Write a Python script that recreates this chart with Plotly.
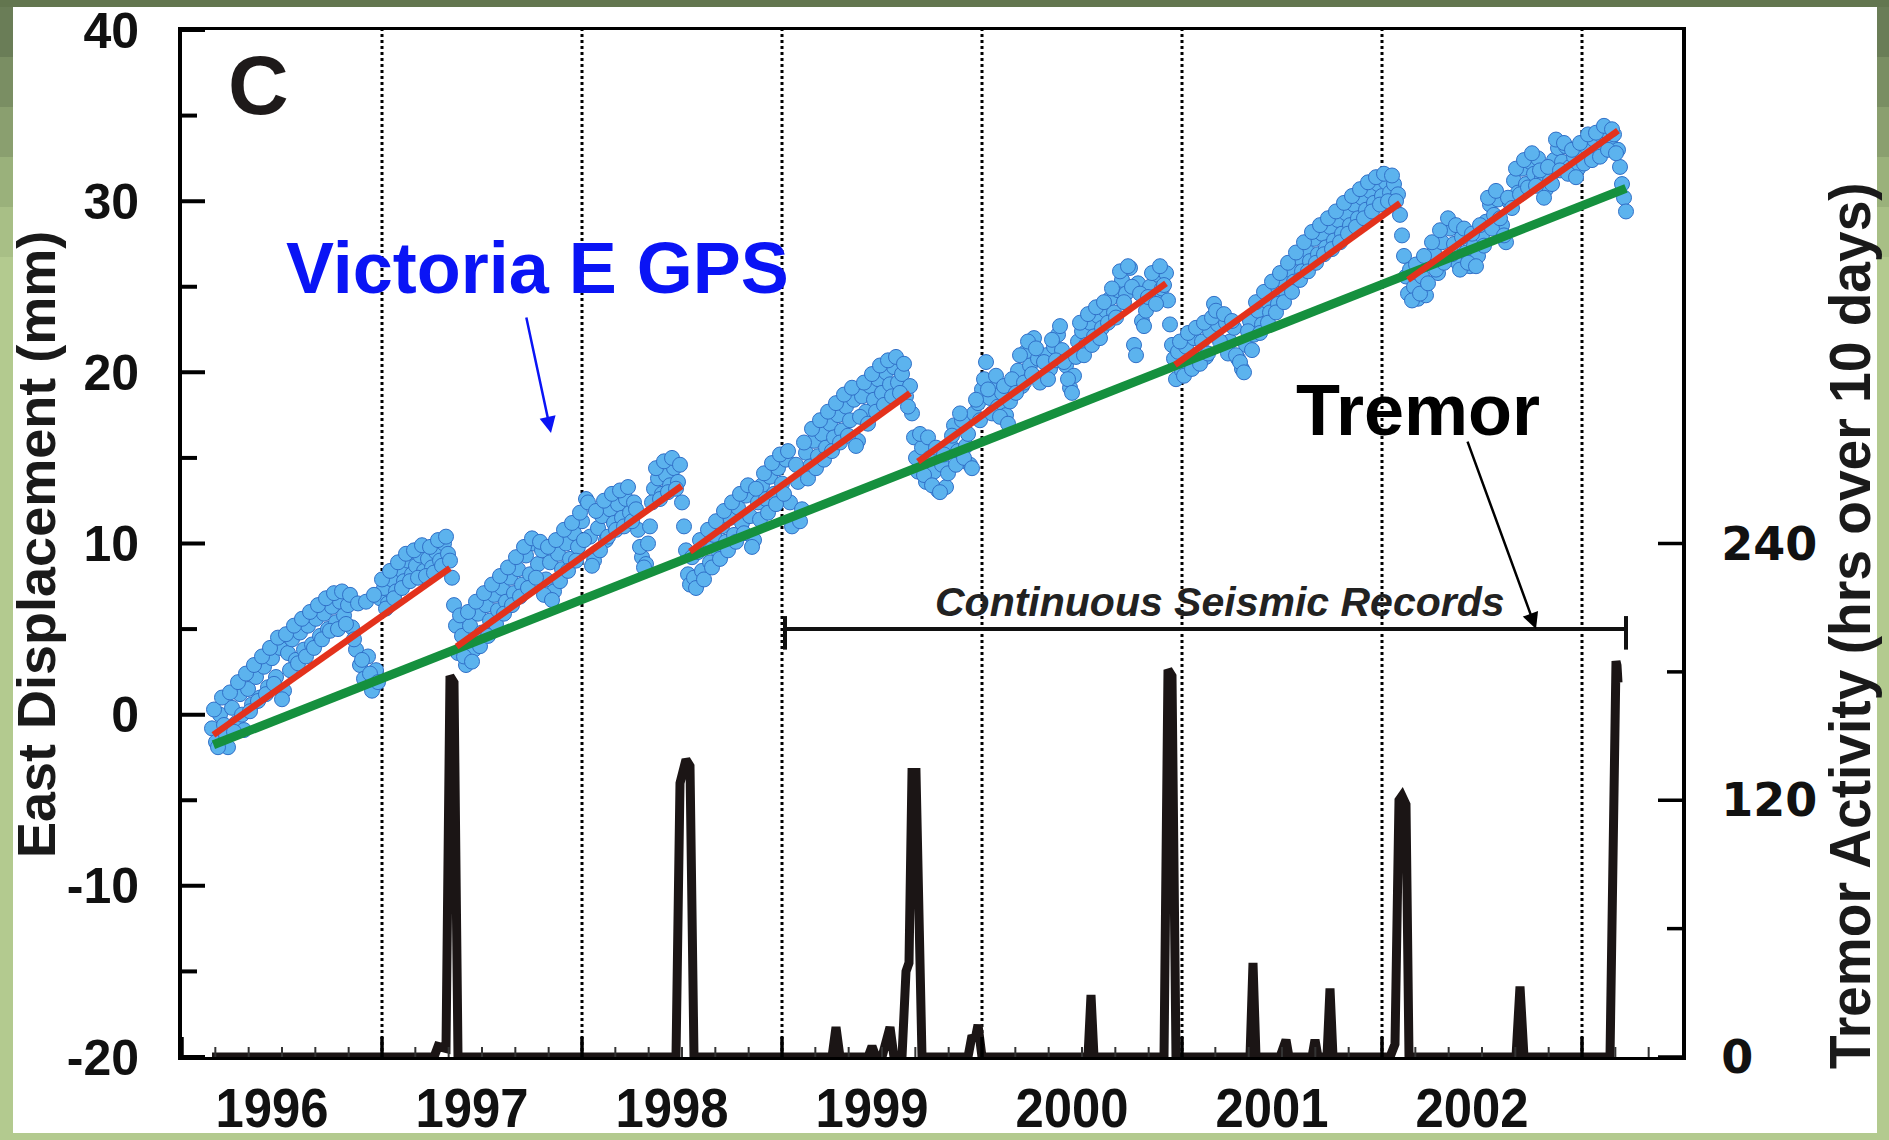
import plotly.graph_objects as go

# ---------------- data ----------------
# GPS east displacement (decimal year, mm), one list per inter-event segment
gps_seg1 = [(1996.15,-0.8),(1996.17,-1.6),(1996.19,0.0),(1996.21,-0.6),(1996.23,-1.9),(1996.25,0.4),
            (1996.27,-0.5),(1996.29,1.2),(1996.31,-0.9),(1996.33,1.5),(1996.35,0.6),(1996.37,2.2),
            (1996.39,1.0),(1996.41,2.8),(1996.43,1.6),(1996.45,3.3),(1996.47,2.2),(1996.49,3.9),
            (1996.51,1.4),(1996.53,3.6),(1996.55,4.4),(1996.57,3.2),(1996.59,4.8),(1996.61,3.8),
            (1996.63,5.2),(1996.65,4.1),(1996.67,5.6),(1996.69,4.6),(1996.71,5.9),(1996.73,5.0),
            (1996.75,6.3),(1996.77,5.4),(1996.79,6.6),(1996.81,5.8),(1996.83,6.4),(1996.85,5.1),
            (1996.87,3.8),(1996.89,2.9),(1996.91,2.1),(1996.93,3.4),(1996.95,1.4),(1996.97,2.6),
            (1996.99,6.8),(1997.01,7.4),(1997.03,6.5),(1997.05,7.9),(1997.07,7.2),(1997.09,8.5),
            (1997.11,7.8),(1997.13,9.0),(1997.15,8.2),(1997.17,8.7),(1997.19,9.3),(1997.21,8.4),
            (1997.23,9.1),(1997.25,8.6),(1997.27,9.5),(1997.29,9.0),(1997.31,10.0),(1997.33,9.4),
            (1997.35,8.0)]
gps_fill1 = [(1996.16,0.3),(1996.18,-1.9),(1996.20,1.0),(1996.22,-1.2),(1996.24,1.3),(1996.26,-1.0),
             (1996.28,1.9),(1996.30,0.0),(1996.32,2.4),(1996.34,0.2),(1996.36,2.9),(1996.38,0.8),
             (1996.40,3.4),(1996.42,1.2),(1996.44,3.9),(1996.46,1.8),(1996.48,4.5),(1996.50,0.9),
             (1996.52,4.7),(1996.54,2.6),(1996.56,5.2),(1996.58,3.0),(1996.60,5.6),(1996.62,3.4),
             (1996.64,6.0),(1996.66,3.9),(1996.68,6.4),(1996.70,4.4),(1996.72,6.8),(1996.74,4.9),
             (1996.76,7.1),(1996.78,5.0),(1996.80,7.2),(1996.82,5.3),(1996.84,7.0),(1996.86,4.4),
             (1996.88,6.5),(1996.90,3.2),(1996.92,6.6),(1996.94,2.4),(1996.96,7.0),(1996.98,1.9),
             (1997.00,7.9),(1997.02,6.2),(1997.04,8.4),(1997.06,6.8),(1997.08,8.9),(1997.10,7.4),
             (1997.12,9.4),(1997.14,7.8),(1997.16,9.6),(1997.18,8.0),(1997.20,9.9),(1997.22,8.1),
             (1997.24,9.8),(1997.26,8.3),(1997.28,10.2),(1997.30,8.7),(1997.32,10.4),(1997.34,9.0)]
gps_seg2 = [(1997.36,6.4),(1997.37,5.2),(1997.38,3.6),(1997.40,4.6),(1997.42,2.9),(1997.44,5.2),
            (1997.46,3.8),(1997.48,5.9),(1997.50,4.8),(1997.52,6.4),(1997.54,5.5),(1997.56,7.0),
            (1997.58,6.1),(1997.60,7.4),(1997.62,6.6),(1997.64,8.0),(1997.66,7.1),(1997.68,8.5),
            (1997.70,7.6),(1997.72,9.3),(1997.74,8.2),(1997.76,10.0),(1997.78,8.8),(1997.80,9.6),
            (1997.82,7.9),(1997.84,8.9),(1997.86,7.2),(1997.88,9.4),(1997.90,8.5),(1997.92,10.0),
            (1997.94,9.1),(1997.96,10.6),(1997.98,9.8),(1998.00,11.3),(1998.02,12.6),(1998.04,10.4),
            (1998.06,9.0),(1998.08,10.9),(1998.10,11.6),(1998.12,10.2),(1998.14,12.0),(1998.16,11.2),
            (1998.18,12.3),(1998.20,11.5),(1998.22,12.6),(1998.24,11.8),(1998.26,12.4),(1998.28,10.8),
            (1998.30,9.2),(1998.32,8.8),(1998.34,11.0),(1998.36,13.2),(1998.38,13.8),(1998.40,12.9),
            (1998.42,14.0),(1998.44,13.4),(1998.46,14.4),(1998.48,13.6),(1998.50,12.4),(1998.51,11.0),
            (1998.52,9.6),(1998.53,8.2)]
gps_fill2 = [(1997.39,5.8),(1997.41,3.4),(1997.43,6.0),(1997.45,3.1),(1997.47,6.6),(1997.49,4.0),
             (1997.51,7.1),(1997.53,4.6),(1997.55,7.6),(1997.57,5.3),(1997.59,8.1),(1997.61,5.9),
             (1997.63,8.6),(1997.65,6.4),(1997.67,9.2),(1997.69,6.9),(1997.71,9.8),(1997.73,7.4),
             (1997.75,10.3),(1997.77,8.0),(1997.79,10.1),(1997.81,7.0),(1997.83,9.8),(1997.85,6.7),
             (1997.87,10.2),(1997.89,7.8),(1997.91,10.8),(1997.93,8.4),(1997.95,11.2),(1997.97,9.0),
             (1997.99,11.8),(1998.01,10.2),(1998.03,12.4),(1998.05,8.7),(1998.07,11.9),(1998.09,9.6),
             (1998.11,12.5),(1998.13,10.4),(1998.15,12.9),(1998.17,10.8),(1998.19,13.1),(1998.21,11.0),
             (1998.23,13.3),(1998.25,11.3),(1998.27,12.0),(1998.29,9.8),(1998.31,8.6),(1998.33,10.0),
             (1998.35,12.4),(1998.37,14.4),(1998.39,12.6),(1998.41,14.8),(1998.43,13.0),(1998.45,15.0),
             (1998.47,13.2),(1998.49,14.6)]
gps_seg3 = [(1998.54,7.6),(1998.55,9.2),(1998.56,8.0),(1998.58,9.5),(1998.60,8.4),(1998.62,9.9),
            (1998.64,8.9),(1998.66,10.5),(1998.68,9.6),(1998.70,11.0),(1998.72,10.1),(1998.74,11.5),
            (1998.76,10.5),(1998.78,12.1),(1998.80,11.2),(1998.82,12.8),(1998.84,11.6),(1998.86,10.2),
            (1998.88,12.4),(1998.90,13.4),(1998.92,12.6),(1998.94,13.9),(1998.96,12.9),(1998.98,14.4),
            (1999.00,13.5),(1999.02,14.9),(1999.04,12.4),(1999.06,11.2),(1999.08,13.6),(1999.10,12.0),
            (1999.12,15.3),(1999.14,14.5),(1999.16,16.0),(1999.18,15.1),(1999.20,16.4),(1999.22,15.6),
            (1999.24,17.0),(1999.26,16.2),(1999.28,17.5),(1999.30,16.6),(1999.32,18.0),(1999.34,17.2),
            (1999.36,18.4),(1999.38,16.0),(1999.40,18.6),(1999.42,17.7),(1999.44,19.2),(1999.46,18.4),
            (1999.48,19.6),(1999.50,18.8),(1999.52,20.0),(1999.54,19.3),(1999.56,20.3),(1999.58,19.4),
            (1999.60,19.9),(1999.62,18.6),(1999.64,19.2),(1999.65,17.6),(1999.66,16.2),(1999.67,15.0)]
gps_fill3 = [(1998.57,7.4),(1998.59,10.2),(1998.61,7.9),(1998.63,10.8),(1998.65,8.6),(1998.67,11.3),
             (1998.69,9.1),(1998.71,11.9),(1998.73,9.6),(1998.75,12.4),(1998.77,10.1),(1998.79,12.9),
             (1998.81,10.6),(1998.83,13.4),(1998.85,9.8),(1998.87,13.2),(1998.89,11.4),(1998.91,14.1),
             (1998.93,11.8),(1998.95,14.7),(1998.97,12.3),(1998.99,15.2),(1999.01,12.9),(1999.03,15.4),
             (1999.05,11.0),(1999.07,14.6),(1999.09,11.3),(1999.11,15.9),(1999.13,13.8),(1999.15,16.7),
             (1999.17,14.4),(1999.19,17.2),(1999.21,14.9),(1999.23,17.7),(1999.25,15.4),(1999.27,18.2),
             (1999.29,15.9),(1999.31,18.7),(1999.33,16.3),(1999.35,19.1),(1999.37,15.7),(1999.39,17.4),
             (1999.41,19.4),(1999.43,17.0),(1999.45,19.9),(1999.47,17.7),(1999.49,20.4),(1999.51,18.1),
             (1999.53,20.7),(1999.55,18.6),(1999.57,20.9),(1999.59,18.8),(1999.61,20.5),(1999.63,18.0)]
gps_seg4 = [(1999.68,14.2),(1999.70,15.6),(1999.72,13.6),(1999.74,15.0),(1999.76,14.2),(1999.78,13.1),
            (1999.80,14.6),(1999.82,13.3),(1999.84,15.8),(1999.86,16.9),(1999.88,15.4),(1999.90,17.2),
            (1999.92,15.7),(1999.94,14.6),(1999.96,17.6),(1999.98,18.2),(2000.00,19.0),(2000.02,20.6),
            (2000.04,18.5),(2000.06,19.3),(2000.08,18.0),(2000.10,18.8),(2000.12,17.5),(2000.14,18.3),
            (2000.16,19.4),(2000.18,20.1),(2000.20,19.2),(2000.22,21.2),(2000.24,20.4),(2000.26,22.0),
            (2000.28,20.8),(2000.30,19.6),(2000.32,21.0),(2000.34,20.2),(2000.36,21.5),(2000.38,22.2),
            (2000.40,21.3),(2000.42,20.4),(2000.44,19.1),(2000.46,19.8),(2000.48,21.8),(2000.50,22.4),
            (2000.52,21.6),(2000.54,22.9),(2000.56,22.1),(2000.58,23.3),(2000.60,22.6),(2000.62,23.6),
            (2000.64,24.3),(2000.66,23.5),(2000.68,24.8),(2000.70,25.4),(2000.72,24.6),(2000.74,26.1),
            (2000.76,21.6),(2000.78,25.2),(2000.80,23.0),(2000.82,23.6),(2000.84,25.0),(2000.86,24.4),
            (2000.88,25.7),(2000.90,24.9),(2000.92,25.8),(2000.93,24.2),(2000.94,22.8),(2000.95,21.6)]
gps_fill4 = [(1999.69,16.4),(1999.71,14.0),(1999.73,16.2),(1999.75,13.4),(1999.77,15.6),(1999.79,13.0),
             (1999.81,15.2),(1999.83,14.1),(1999.85,16.3),(1999.87,14.6),(1999.89,17.6),(1999.91,15.0),
             (1999.93,16.4),(1999.95,14.4),(1999.97,18.4),(1999.99,17.2),(2000.01,19.6),(2000.03,19.0),
             (2000.05,17.6),(2000.07,19.8),(2000.09,17.4),(2000.11,19.2),(2000.13,17.0),(2000.15,19.6),
             (2000.17,18.8),(2000.19,21.0),(2000.21,19.4),(2000.23,21.8),(2000.25,19.9),(2000.27,21.4),
             (2000.29,19.4),(2000.31,20.6),(2000.33,19.6),(2000.35,21.9),(2000.37,20.7),(2000.39,22.7),
             (2000.41,20.6),(2000.43,19.6),(2000.45,18.8),(2000.47,20.9),(2000.49,22.9),(2000.51,21.0),
             (2000.53,23.4),(2000.55,21.6),(2000.57,23.8),(2000.59,22.0),(2000.61,24.1),(2000.63,22.9),
             (2000.65,24.9),(2000.67,23.2),(2000.69,25.9),(2000.71,24.1),(2000.73,26.2),(2000.75,25.0),
             (2000.77,21.0),(2000.79,24.6),(2000.81,22.7),(2000.83,24.4),(2000.85,25.8),(2000.87,24.0),
             (2000.89,26.2),(2000.91,25.1)]
gps_seg5 = [(2000.96,20.8),(2000.97,19.6),(2000.98,21.2),(2001.00,20.1),(2001.02,21.5),(2001.04,20.6),
            (2001.06,22.0),(2001.08,21.0),(2001.10,21.8),(2001.12,20.9),(2001.14,22.4),(2001.16,24.0),
            (2001.18,22.8),(2001.20,21.6),(2001.22,22.9),(2001.24,21.8),(2001.26,22.6),(2001.28,20.8),
            (2001.30,20.2),(2001.32,21.6),(2001.34,23.0),(2001.36,22.2),(2001.38,23.6),(2001.40,22.8),
            (2001.42,24.2),(2001.44,23.5),(2001.46,24.8),(2001.48,24.0),(2001.50,25.4),(2001.52,24.7),
            (2001.54,26.0),(2001.56,25.3),(2001.58,26.7),(2001.60,25.9),(2001.62,27.2),(2001.64,26.5),
            (2001.66,27.8),(2001.68,26.9),(2001.70,28.1),(2001.72,27.3),(2001.74,28.5),(2001.76,27.7),
            (2001.78,28.9),(2001.80,28.1),(2001.82,29.3),(2001.84,28.6),(2001.86,29.8),(2001.88,29.0),
            (2001.90,30.2),(2001.92,29.5),(2001.94,30.6),(2001.96,29.9),(2001.98,31.0),(2002.00,30.3),
            (2002.02,31.1),(2002.04,30.5),(2002.06,31.0),(2002.08,30.4),(2002.09,29.2),(2002.10,28.0),
            (2002.11,26.8),(2002.12,25.6)]
gps_fill5 = [(2000.99,21.8),(2001.01,19.8),(2001.03,22.3),(2001.05,20.2),(2001.07,22.6),(2001.09,20.5),
             (2001.11,22.9),(2001.13,21.1),(2001.15,23.2),(2001.17,23.6),(2001.19,21.8),(2001.21,23.4),
             (2001.23,21.1),(2001.25,23.0),(2001.27,21.0),(2001.29,20.6),(2001.31,20.0),(2001.33,22.4),
             (2001.35,21.3),(2001.37,24.1),(2001.39,22.3),(2001.41,24.7),(2001.43,22.9),(2001.45,25.3),
             (2001.47,23.5),(2001.49,25.8),(2001.51,24.1),(2001.53,26.4),(2001.55,24.7),(2001.57,27.0),
             (2001.59,25.4),(2001.61,27.6),(2001.63,25.9),(2001.65,28.2),(2001.67,26.4),(2001.69,28.6),
             (2001.71,26.9),(2001.73,29.0),(2001.75,27.2),(2001.77,29.4),(2001.79,27.6),(2001.81,29.9),
             (2001.83,28.1),(2001.85,30.3),(2001.87,28.5),(2001.89,30.7),(2001.91,29.0),(2001.93,31.1),
             (2001.95,29.4),(2001.97,31.4),(2001.99,29.8),(2002.01,31.6),(2002.03,30.0),(2002.05,31.5),
             (2002.07,30.0)]
gps_seg6 = [(2002.13,24.6),(2002.14,26.0),(2002.16,25.0),(2002.18,24.3),(2002.20,25.6),(2002.22,24.5),
            (2002.24,26.4),(2002.26,27.0),(2002.28,25.8),(2002.30,27.6),(2002.32,26.6),(2002.34,28.4),
            (2002.36,27.5),(2002.38,26.4),(2002.40,27.9),(2002.42,27.0),(2002.44,26.2),(2002.46,27.4),
            (2002.48,26.8),(2002.50,28.0),(2002.52,28.8),(2002.54,29.8),(2002.56,29.2),(2002.58,30.1),
            (2002.60,28.6),(2002.62,27.6),(2002.64,29.9),(2002.66,31.2),(2002.68,30.5),(2002.70,31.9),
            (2002.72,31.0),(2002.74,32.3),(2002.76,31.6),(2002.78,32.5),(2002.80,31.4),(2002.82,30.7),
            (2002.84,31.2),(2002.86,32.4),(2002.88,33.1),(2002.90,32.3),(2002.92,33.2),(2002.94,32.0),
            (2002.96,32.6),(2002.98,31.9),(2003.00,32.8),(2003.02,33.2),(2003.04,32.5),(2003.06,33.6),
            (2003.08,32.9),(2003.10,33.8),(2003.12,34.1),(2003.14,33.4),(2003.16,33.9),(2003.18,33.0),
            (2003.19,32.0),(2003.20,31.0),(2003.21,30.2),(2003.22,29.4)]
gps_fill6 = [(2002.15,24.2),(2002.17,26.3),(2002.19,24.6),(2002.21,26.8),(2002.23,25.2),(2002.25,27.6),
             (2002.27,26.0),(2002.29,28.3),(2002.31,26.4),(2002.33,29.0),(2002.35,26.9),(2002.37,28.6),
             (2002.39,26.0),(2002.41,28.4),(2002.43,26.4),(2002.45,28.1),(2002.47,26.2),(2002.49,28.6),
             (2002.51,27.4),(2002.53,30.2),(2002.55,28.4),(2002.57,30.6),(2002.59,29.0),(2002.61,28.0),
             (2002.63,30.2),(2002.65,29.6),(2002.67,31.9),(2002.69,30.4),(2002.71,32.4),(2002.73,30.8),
             (2002.75,32.8),(2002.77,30.9),(2002.79,31.8),(2002.81,30.2),(2002.83,32.0),(2002.85,31.0),
             (2002.87,33.6),(2002.89,31.8),(2002.91,33.4),(2002.93,31.6),(2002.95,33.0),(2002.97,31.4),
             (2002.99,33.4),(2003.01,32.2),(2003.03,33.9),(2003.05,32.4),(2003.07,34.0),(2003.09,32.6),
             (2003.11,34.4),(2003.13,33.0),(2003.15,34.2),(2003.17,32.8)]

# Inter-event linear fits (red) and long-term trend (green)
red_start_t = [1996.157, 1997.373, 1998.54, 1999.68, 2000.965, 2002.13]
red_start_mm = [-1.18, 3.98, 9.53, 14.78, 20.43, 25.4]
red_end_t = [1997.34, 1998.498, 1999.64, 2000.92, 2002.09, 2003.18]
red_end_mm = [8.56, 13.36, 18.78, 25.2, 29.88, 34.12]
green_t = [1996.157, 2003.22]
green_mm = [-1.76, 30.75]

# Tremor activity (hours over 10 days)
tremor_t = [1996.15, 1997.26, 1997.28, 1997.30, 1997.32, 1997.34, 1997.36, 1997.38,
            1998.47, 1998.49, 1998.50, 1998.52, 1998.54, 1998.56,
            1999.25, 1999.27, 1999.29,
            1999.43, 1999.45, 1999.47,
            1999.50, 1999.52, 1999.54, 1999.56,
            1999.60, 1999.62, 1999.635, 1999.65, 1999.67, 1999.70,
            1999.93, 1999.95, 1999.965, 1999.98, 2000.00,
            2000.53, 2000.545, 2000.56,
            2000.91, 2000.93, 2000.95, 2000.97,
            2001.34, 2001.355, 2001.37,
            2001.49, 2001.505, 2001.52, 2001.535,
            2001.65, 2001.665, 2001.68, 2001.725, 2001.74, 2001.755,
            2002.04, 2002.065, 2002.085, 2002.10, 2002.12, 2002.135,
            2002.67, 2002.69, 2002.71,
            2003.14, 2003.16, 2003.17, 2003.175, 2003.18]
tremor_hrs = [0, 0, 5, 5, 4, 178, 175, 0,
              0, 128, 131, 139, 136, 0,
              0, 14, 0,
              0, 5, 0,
              0, 8, 14, 0,
              0, 40, 44, 133, 133, 0,
              0, 10, 8, 15, 0,
              0, 29, 0,
              0, 181, 178, 0,
              0, 44, 0,
              0, 5, 8, 0,
              0, 8, 0, 0, 32, 0,
              0, 6, 120, 122, 118, 0,
              0, 33, 0,
              0, 175, 185, 183, 175]

year_labels = [1996, 1997, 1998, 1999, 2000, 2001, 2002]
left_ticks = [-20, -10, 0, 10, 20, 30, 40]
right_ticks = [0, 120, 240]
right_minor = [60, 180]
records_start, records_end, records_level = 1999.015, 2003.22, 5.0

# ---------------- figure ----------------
W, H = 1889, 1140
ML, MR, MT, MB = 182, 207, 30, 83
PW, PH = W - ML - MR, H - MT - MB
def px_x(px):
    return (px - ML) / PW
def px_y(py):
    return (H - MB - py) / PH

gps_all = gps_seg1 + gps_fill1 + gps_seg2 + gps_fill2 + gps_seg3 + gps_fill3 + \
          gps_seg4 + gps_fill4 + gps_seg5 + gps_fill5 + gps_seg6 + gps_fill6
gps_t = [p[0] for p in gps_all]
gps_mm = [p[1] for p in gps_all]

fig = go.Figure()
fig.add_trace(go.Scatter(x=gps_t, y=gps_mm, mode='markers',
                         marker=dict(size=15, color='#5CB3EE', line=dict(color='#3170C8', width=1)),
                         hoverinfo='skip'))
fig.add_trace(go.Scatter(x=green_t, y=green_mm, mode='lines',
                         line=dict(color='#15903E', width=9), hoverinfo='skip'))
rx, ry = [], []
for a, b, c, d in zip(red_start_t, red_start_mm, red_end_t, red_end_mm):
    rx += [a, c, None]
    ry += [b, d, None]
fig.add_trace(go.Scatter(x=rx, y=ry, mode='lines',
                         line=dict(color='#E3321C', width=6.5), hoverinfo='skip'))
fig.add_trace(go.Scatter(x=tremor_t, y=tremor_hrs, mode='lines', yaxis='y2',
                         line=dict(color='#1B1515', width=9), hoverinfo='skip'))

shapes = []
# frame: white panel over green background
shapes.append(dict(type='rect', xref='paper', yref='paper', x0=px_x(13), x1=px_x(1877),
                   y0=px_y(1133), y1=px_y(7), fillcolor='white', line=dict(width=0), layer='below'))
shapes.append(dict(type='rect', xref='paper', yref='paper', x0=px_x(0), x1=px_x(W),
                   y0=px_y(7), y1=px_y(0), fillcolor='#63764F', line=dict(width=0), layer='below'))
grad = ['#6A7D57', '#7A8E63', '#8A9F6F', '#9AB17B', '#A8BF86']
for i, c in enumerate(grad):
    for xa, xb in ((0, 13), (1877, W)):
        shapes.append(dict(type='rect', xref='paper', yref='paper', x0=px_x(xa), x1=px_x(xb),
                           y0=px_y(7 + 50 * (i + 1)), y1=px_y(7 + 50 * i), fillcolor=c,
                           line=dict(width=0), layer='below'))
# dotted year boundaries
for yr in range(1997, 2004):
    shapes.append(dict(type='line', xref='x', yref='y', x0=yr, x1=yr, y0=-20, y1=40,
                       line=dict(color='black', width=3, dash='dot'), layer='below'))
# left axis ticks (crossing the axis)
for v in left_ticks:
    shapes.append(dict(type='line', xref='x', xsizemode='pixel', xanchor=1996, x0=-24, x1=23,
                       yref='y', y0=v, y1=v, line=dict(color='black', width=4)))
for v in range(-15, 40, 10):
    shapes.append(dict(type='line', xref='x', xsizemode='pixel', xanchor=1996, x0=-15, x1=15,
                       yref='y', y0=v, y1=v, line=dict(color='black', width=4)))
# right axis ticks
for v in right_ticks:
    shapes.append(dict(type='line', xref='x', xsizemode='pixel', xanchor=2003.5, x0=-24, x1=18,
                       yref='y2', y0=v, y1=v, line=dict(color='black', width=3.5)))
for v in right_minor:
    shapes.append(dict(type='line', xref='x', xsizemode='pixel', xanchor=2003.5, x0=-15, x1=16,
                       yref='y2', y0=v, y1=v, line=dict(color='black', width=3.5)))
# bottom axis ticks
for yr in range(1996, 2004):
    shapes.append(dict(type='line', xref='x', x0=yr, x1=yr, yref='y', ysizemode='pixel',
                       yanchor=-20, y0=-20, y1=20, line=dict(color='black', width=3.5)))
for k in range(1, 45):
    if k % 6:
        t = 1996 + k / 6
        shapes.append(dict(type='line', xref='x', x0=t, x1=t, yref='y', ysizemode='pixel',
                           yanchor=-20, y0=-11, y1=10, line=dict(color='#333', width=2)))
# continuous seismic records bracket
shapes.append(dict(type='line', xref='x', yref='y', x0=records_start, x1=records_end,
                   y0=records_level, y1=records_level, line=dict(color='#111', width=4)))
for xv in (records_start, records_end):
    shapes.append(dict(type='line', xref='x', yref='y', x0=xv, x1=xv, y0=records_level + 0.76,
                       y1=records_level - 1.2, line=dict(color='#111', width=4)))
# clip strip at bottom of frame
shapes.append(dict(type='rect', xref='paper', yref='paper', x0=px_x(0), x1=px_x(W),
                   y0=px_y(H), y1=px_y(1133), fillcolor='#B3CA8F', line=dict(width=0), layer='above'))

arial = 'Liberation Sans, Arial, Helvetica, sans-serif'
narrow = 'Liberation Sans Narrow, Arial Narrow, Liberation Sans, Arial, sans-serif'
def ann(**kw):
    base = dict(showarrow=False, xanchor='center', yanchor='middle')
    base.update(kw)
    return base
annotations = [
    ann(text='C', x=1996.38, y=36.79, xref='x', yref='y',
        font=dict(family=arial, size=84, color='#1E1A1A', weight='bold')),
    ann(text='Victoria E GPS', x=1997.775, y=26.1, xref='x', yref='y',
        font=dict(family=arial, size=72, color='#0A14F5', weight='bold')),
    ann(text='', x=1997.845, y=16.46, xref='x', yref='y', ax=-25, ay=-117, showarrow=True,
        arrowhead=2, arrowsize=1.3, arrowwidth=2.5, arrowcolor='#0A14F5'),
    ann(text='Tremor', x=2002.18, y=17.8, xref='x', yref='y',
        font=dict(family=arial, size=72, color='#000', weight='bold')),
    ann(text='', x=2002.77, y=5.0, xref='x', yref='y', ax=-69, ay=-189, showarrow=True,
        arrowhead=2, arrowsize=1.3, arrowwidth=2.5, arrowcolor='#000'),
    ann(text='<i>Continuous Seismic Records</i>', x=2001.19, y=6.58, xref='x', yref='y',
        font=dict(family=arial, size=41, color='#222', weight='bold')),
    ann(text='East Displacement (mm)', x=px_x(36), y=px_y(545), xref='paper', yref='paper',
        textangle=-90, font=dict(family=arial, size=54, color='#1a1a1a', weight='bold')),
    ann(text='Tremor Activity (hrs over 10 days)', x=px_x(1849), y=px_y(626), xref='paper',
        yref='paper', textangle=-90,
        font=dict(family=narrow, size=58, color='#1a1a1a', weight='bold')),
]

fig.update_layout(
    width=W, height=H, margin=dict(l=ML, r=MR, t=MT, b=MB, autoexpand=False),
    paper_bgcolor='#B3CA8F', plot_bgcolor='rgba(0,0,0,0)', showlegend=False,
    hovermode=False, shapes=shapes, annotations=annotations,
    xaxis=dict(range=[1996, 2003.5], showgrid=False, zeroline=False, showline=True,
               linecolor='black', linewidth=3, mirror=True, ticks='',
               tickmode='array', tickvals=[y + 0.45 for y in year_labels],
               ticktext=[str(y) for y in year_labels], ticklabelstandoff=0,
               tickfont=dict(family=narrow, size=56, color='#111', weight='bold'),
               automargin=False, fixedrange=True),
    yaxis=dict(range=[-20, 40], showgrid=False, zeroline=False, showline=True,
               linecolor='black', linewidth=4, ticks='', tickmode='array',
               tickvals=left_ticks, ticktext=[str(v).replace('\u2212', '-') for v in left_ticks],
               ticklabelstandoff=29,
               tickfont=dict(family=arial, size=50, color='#111', weight='bold'),
               automargin=False, fixedrange=True),
    yaxis2=dict(range=[0, 480], overlaying='y', side='right', showgrid=False, zeroline=False,
                showline=True, linecolor='black', linewidth=4, ticks='', tickmode='array',
                tickvals=right_ticks, ticklabelstandoff=26,
                tickfont=dict(family='DejaVu Sans, sans-serif', size=46, color='#111', weight='bold'),
                automargin=False, fixedrange=True),
)

# Condense the year labels and the right title horizontally when no narrow face is installed.
post_js = """
var gd = document.getElementById('{plot_id}');
function squeeze(el, target) {
  var base = el.getAttribute('data-base-t');
  if (base === null) { base = el.getAttribute('transform') || ''; el.setAttribute('data-base-t', base); }
  el.setAttribute('transform', base);
  var bb = el.getBBox();
  if (bb.width > target) {
    var s = target / bb.width, cx = bb.x + bb.width / 2;
    el.setAttribute('transform', base + ' translate(' + cx + ',0) scale(' + s + ',1) translate(' + (-cx) + ',0)');
  }
}
function applyAll() {
  gd.querySelectorAll('.xtick text').forEach(function (el) { squeeze(el, 113); });
  gd.querySelectorAll('.annotation-text').forEach(function (el) {
    if (el.textContent.indexOf('Tremor Activity') === 0) { squeeze(el, 887); }
  });
}
applyAll();
if (gd.on) { gd.on('plotly_afterplot', applyAll); }
"""

fig.write_html('out.html', post_script=post_js, config={'responsive': False})
